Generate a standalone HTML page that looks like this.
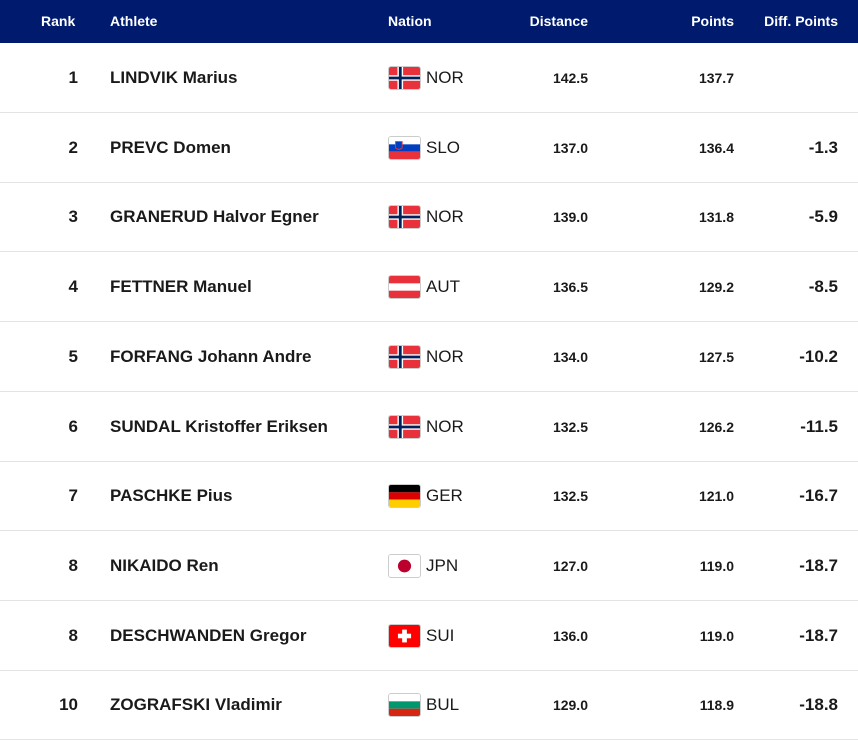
<!DOCTYPE html>
<html><head><meta charset="utf-8"><style>
*{margin:0;padding:0;box-sizing:border-box}
body{width:858px;height:739px;background:#fff;font-family:"Liberation Sans",sans-serif;color:#1a1a1a;position:relative;overflow:hidden}
.hdr{position:absolute;left:0;top:0;width:858px;height:43px;background:#001b6e;color:#fff;font-weight:bold;font-size:14px}
.hdr div{position:absolute;top:13px}
.row{position:absolute;left:0;width:858px;height:70px;border-bottom:1px solid #e3e3e3}
.row div{position:absolute;top:25px;line-height:20px}
.rk{right:780px;font-size:17px;font-weight:bold;text-align:right}
.nm{left:110px;font-size:17px;font-weight:bold}
.fl{left:388px;top:23px!important;width:33px;height:24px;border-radius:3px;overflow:hidden;border:1px solid #ccc}
.fl svg{width:100%;height:100%}
.cd{left:426px;font-size:17px}
.ds{right:270px;font-size:14px;font-weight:bold}
.pt{right:124px;font-size:14px;font-weight:bold}
.df{right:20px;font-size:17px;font-weight:bold}
svg{display:block}
</style></head><body>
<div class="hdr"><div style="left:41px">Rank</div><div style="left:110px">Athlete</div><div style="left:388px">Nation</div><div style="right:270px">Distance</div><div style="right:124px">Points</div><div style="right:20px">Diff. Points</div></div>
<div id="rows"></div>
<script>
const P='preserveAspectRatio="none"';
const F={
NOR:`<svg ${P} viewBox="0 0 22 16"><rect width="22" height="16" fill="#e8313a"/><rect x="6" width="4" height="16" fill="#fff"/><rect y="6" width="22" height="4" fill="#fff"/><rect x="7" width="2" height="16" fill="#00205b"/><rect y="7" width="22" height="2" fill="#00205b"/></svg>`,
SLO:`<svg ${P} viewBox="0 0 33 24"><rect width="33" height="8" fill="#fff"/><rect y="8" width="33" height="8" fill="#0040c0"/><rect y="16" width="33" height="8" fill="#e8313a"/><path d="M7 5h7v7q-3.5 3-7 0z" fill="#0040c0" stroke="#e8313a" stroke-width="1"/></svg>`,
AUT:`<svg ${P} viewBox="0 0 3 3"><rect width="3" height="3" fill="#e8313a"/><rect y="1" width="3" height="1" fill="#fff"/></svg>`,
GER:`<svg ${P} viewBox="0 0 3 3"><rect width="3" height="1" fill="#000"/><rect y="1" width="3" height="1" fill="#dd0000"/><rect y="2" width="3" height="1" fill="#ffce00"/></svg>`,
JPN:`<svg ${P} viewBox="0 0 33 24"><rect width="33" height="24" fill="#fff"/><circle cx="16.5" cy="12" r="7" fill="#bc002d"/></svg>`,
SUI:`<svg ${P} viewBox="0 0 33 24"><rect width="33" height="24" fill="#f00"/><rect x="14" y="5" width="5" height="14" fill="#fff"/><rect x="9.5" y="9.5" width="14" height="5" fill="#fff"/></svg>`,
BUL:`<svg ${P} viewBox="0 0 3 3"><rect width="3" height="1" fill="#fff"/><rect y="1" width="3" height="1" fill="#00966e"/><rect y="2" width="3" height="1" fill="#d62612"/></svg>`};
const D=[["1","LINDVIK Marius","NOR","142.5","137.7",""],["2","PREVC Domen","SLO","137.0","136.4","-1.3"],["3","GRANERUD Halvor Egner","NOR","139.0","131.8","-5.9"],["4","FETTNER Manuel","AUT","136.5","129.2","-8.5"],["5","FORFANG Johann Andre","NOR","134.0","127.5","-10.2"],["6","SUNDAL Kristoffer Eriksen","NOR","132.5","126.2","-11.5"],["7","PASCHKE Pius","GER","132.5","121.0","-16.7"],["8","NIKAIDO Ren","JPN","127.0","119.0","-18.7"],["8","DESCHWANDEN Gregor","SUI","136.0","119.0","-18.7"],["10","ZOGRAFSKI Vladimir","BUL","129.0","118.9","-18.8"]];
let h='';D.forEach((r,i)=>{h+=`<div class="row" style="top:${43+i*69.7}px"><div class="rk">${r[0]}</div><div class="nm">${r[1]}</div><div class="fl">${F[r[2]]}</div><div class="cd">${r[2]}</div><div class="ds">${r[3]}</div><div class="pt">${r[4]}</div><div class="df">${r[5]}</div></div>`});
document.getElementById('rows').innerHTML=h;
</script>
</body></html>
